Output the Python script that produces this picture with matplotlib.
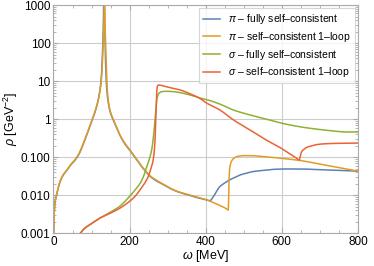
import numpy as np
import matplotlib
matplotlib.use('Agg')
import matplotlib.pyplot as plt
from matplotlib.ticker import FixedLocator, NullFormatter

plt.rcParams.update({'font.family': 'Liberation Sans', 'mathtext.fontset': 'custom',
                     'mathtext.rm': 'Liberation Sans', 'mathtext.it': 'Liberation Sans:italic',
                     'font.size': 8})

# pi - fully self-consistent
w_pi_full = [0.3, 1.5, 3, 5, 8, 12, 17, 25, 35, 45, 56, 67, 79, 91, 102, 112, 120, 125.5, 129, 131, 132.5,
             134.5, 136.5, 140, 148, 158, 165, 175, 188, 201, 215, 227, 240, 253, 270, 289, 310, 330, 350,
             375, 401, 411, 420, 437, 450, 462, 475, 490, 507, 525, 550, 578, 610, 648, 700, 750, 800]
r_pi_full = [0.0008, 0.0025, 0.005, 0.0075, 0.010, 0.015, 0.022, 0.033, 0.045, 0.062, 0.082, 0.12, 0.23,
             0.48, 0.95, 1.9, 4.3, 12, 60, 300, 2500, 300, 40, 6, 1.7, 0.9, 0.62, 0.37, 0.22, 0.15, 0.095,
             0.065, 0.045, 0.032, 0.024, 0.019, 0.0145, 0.012, 0.0105, 0.0088, 0.0076, 0.0072, 0.0092,
             0.0168, 0.021, 0.025, 0.029, 0.034, 0.038, 0.042, 0.045, 0.048, 0.049, 0.049, 0.047, 0.045, 0.043]

# pi - self-consistent 1-loop
w_pi_1l = [0.3, 1.5, 3, 5, 8, 12, 17, 25, 35, 45, 56, 67, 79, 91, 102, 112, 121, 126.5, 130, 132.5, 134,
           135.5, 138, 141, 148, 158, 165, 175, 188, 201, 215, 227, 240, 253, 270, 289, 310, 330, 350,
           375, 401, 420, 437, 453, 459, 460, 461, 463, 467, 472, 480, 490, 500, 520, 545, 575, 602, 648,
           700, 750, 800]
r_pi_1l = [0.0008, 0.0026, 0.0052, 0.0078, 0.0105, 0.0155, 0.023, 0.034, 0.046, 0.064, 0.085, 0.125, 0.24,
           0.5, 1.0, 2.0, 4.6, 13, 70, 350, 3000, 350, 45, 6.5, 1.8, 0.95, 0.65, 0.38, 0.23, 0.155, 0.098,
           0.067, 0.046, 0.033, 0.025, 0.0195, 0.0148, 0.0122, 0.0107, 0.009, 0.0077, 0.0064, 0.0054,
           0.0045, 0.0041, 0.006, 0.02, 0.05, 0.075, 0.09, 0.102, 0.108, 0.11, 0.11, 0.105, 0.099, 0.093,
           0.082, 0.066, 0.053, 0.043]

# sigma - fully self-consistent
w_sig_full = [67, 80, 100, 122, 150, 175, 199, 215, 227, 237, 245, 252, 258, 262, 265, 267, 269, 271, 274,
              278, 285, 297, 315, 332, 360, 385, 401, 437, 472, 515, 560, 596, 640, 683, 726, 770, 800]
r_sig_full = [0.0009, 0.0013, 0.0018, 0.0025, 0.0036, 0.0052, 0.0091, 0.014, 0.02, 0.032, 0.056, 0.09,
              0.155, 0.3, 0.6, 1.0, 1.7, 3.0, 4.2, 4.9, 5.3, 5.4, 5.3, 5.0, 4.3, 3.6, 3.3, 2.5, 1.75, 1.3,
              1.0, 0.8, 0.65, 0.56, 0.5, 0.46, 0.46]

# sigma - self-consistent 1-loop
w_sig_1l = [67, 80, 100, 122, 150, 175, 199, 215, 227, 240, 249, 256, 262, 265, 267, 268.5, 270, 271.5,
            273, 276, 281, 290, 310, 332, 360, 385, 401, 437, 472, 515, 560, 595, 621, 635, 646, 648, 652,
            658, 665, 680, 692, 715, 750, 800]
r_sig_1l = [0.0009, 0.0013, 0.0018, 0.0025, 0.0034, 0.0046, 0.0068, 0.0095, 0.0138, 0.021, 0.031, 0.05,
            0.085, 0.15, 0.3, 0.8, 2.5, 5.5, 7.3, 7.9, 7.8, 7.4, 6.6, 5.9, 4.6, 3.5, 2.7, 1.75, 0.97,
            0.53, 0.28, 0.18, 0.122, 0.1, 0.085, 0.1, 0.14, 0.16, 0.18, 0.2, 0.215, 0.226, 0.232, 0.235]

labels = [r'$\pi$ – fully self–consistent', r'$\pi$ – self–consistent 1–loop',
          r'$\sigma$ – fully self–consistent', r'$\sigma$ – self–consistent 1–loop']
colors = ['#5E81B5', '#E19C24', '#8FB032', '#EB6235']

y_ticks = [0.001, 0.01, 0.1, 1, 10, 100, 1000]
y_ticklabels = ['0.001', '0.010', '0.100', '1', '10', '100', '1000']
x_ticks = [0, 200, 400, 600, 800]


def pchip(x, y, xf):
    # monotone cubic (Fritsch-Carlson) so kinks and jumps do not overshoot
    x = np.asarray(x, float)
    y = np.asarray(y, float)
    h = np.diff(x)
    d = np.diff(y) / h
    m = np.zeros_like(y)
    for k in range(1, len(x) - 1):
        if d[k - 1] * d[k] > 0:
            w1 = 2 * h[k] + h[k - 1]
            w2 = h[k] + 2 * h[k - 1]
            m[k] = (w1 + w2) / (w1 / d[k - 1] + w2 / d[k])
    m[0], m[-1] = d[0], d[-1]
    i = np.clip(np.searchsorted(x, xf) - 1, 0, len(x) - 2)
    t = (xf - x[i]) / h[i]
    h00 = 2 * t ** 3 - 3 * t ** 2 + 1
    h10 = t ** 3 - 2 * t ** 2 + t
    h01 = -2 * t ** 3 + 3 * t ** 2
    h11 = t ** 3 - t ** 2
    return h00 * y[i] + h10 * h[i] * m[i] + h01 * y[i + 1] + h11 * h[i] * m[i + 1]


def smooth(w, r):
    wf = np.union1d(np.linspace(w[0], w[-1], 6000), w)
    return wf, 10 ** pchip(w, np.log10(r), wf)


fig = plt.figure(figsize=(3.74, 2.66), dpi=100)
ax = fig.add_axes([0.143, 0.123, 0.814, 0.858])

for (w, r), c, lbl in zip([(w_pi_full, r_pi_full), (w_pi_1l, r_pi_1l), (w_sig_full, r_sig_full),
                           (w_sig_1l, r_sig_1l)], colors, labels):
    wf, rf = smooth(w, r)
    ax.plot(wf, rf, color=c, lw=1.1, label=lbl)

ax.set_yscale('log')
ax.set_xlim(0, 800)
ax.set_ylim(0.001, 1000)
ax.yaxis.set_major_locator(FixedLocator(y_ticks))
ax.set_yticklabels(y_ticklabels)
minor = [m * 10.0 ** e for e in range(-3, 3) for m in range(2, 10)]
ax.yaxis.set_minor_locator(FixedLocator(minor))
ax.yaxis.set_minor_formatter(NullFormatter())
ax.set_xticks(x_ticks)
ax.set_xticks([v for v in range(0, 801, 50) if v % 200], minor=True)

ax.grid(True, which='major', color='#cccccc', lw=0.8)
ax.set_axisbelow(True)
for s in ax.spines.values():
    s.set_color('#aaaaaa')
    s.set_linewidth(0.8)
ax.tick_params(which='both', direction='in', top=True, right=True, color='#aaaaaa', labelsize=8.5, pad=2)
ax.tick_params(which='major', length=3.5)
ax.tick_params(which='minor', length=2)

ax.set_xlabel(r'$\omega$ [MeV]', fontsize=9, labelpad=0)
ax.set_ylabel(r'$\rho$ [GeV$^{-2}$]', fontsize=9, labelpad=1)

leg = ax.legend(loc='upper right', fontsize=7.5, frameon=True, fancybox=False, borderpad=0.4,
                handlelength=1.6, handletextpad=0.8, labelspacing=0.35, borderaxespad=0.3)
leg.get_frame().set_edgecolor('#cccccc')
leg.get_frame().set_linewidth(0.8)

fig.savefig('out.png', dpi=100)
